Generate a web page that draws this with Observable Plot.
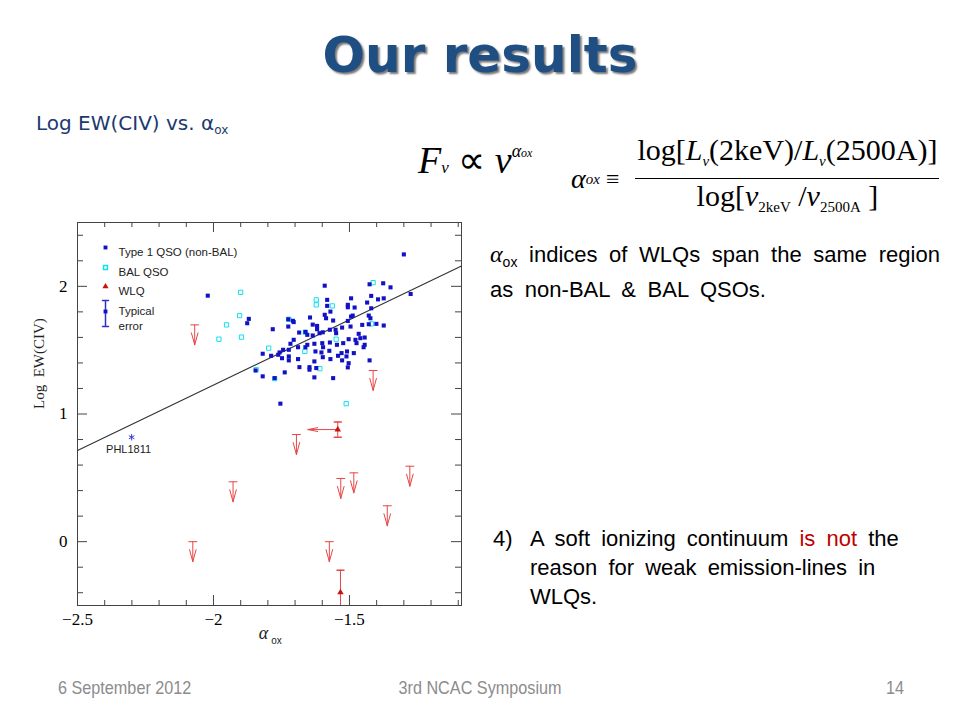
<!DOCTYPE html>
<html><head><meta charset="utf-8">
<script src="https://cdn.jsdelivr.net/npm/d3@7"></script>
<script src="https://cdn.jsdelivr.net/npm/@observablehq/plot@0.6"></script>
<style>
body{margin:0;background:#fff;width:960px;height:720px;position:relative;overflow:hidden;font-family:"Liberation Sans",Arial,sans-serif;}
.abs{position:absolute;white-space:nowrap;}
#title{left:0;width:960px;top:30px;text-align:center;font-family:"DejaVu Sans";font-weight:bold;font-size:50px;line-height:50px;color:#1f4e82;text-shadow:2px 2px 2px #777;}
#sub{left:36px;top:110px;font-family:"DejaVu Sans";font-size:20px;line-height:26px;color:#1c3a6e;}
#sub sub{font-size:12px;vertical-align:-4px;}
.serif{font-family:"Liberation Serif","Times New Roman",serif;color:#000;}
#f1{left:418px;top:129px;font-size:38px;line-height:44px;}
#f1 i{font-style:italic;}
#f1 .s{font-size:17px;}
#f2{left:571px;top:134px;font-size:30px;display:flex;align-items:center;}
#f2 .frac{display:inline-flex;flex-direction:column;align-items:center;margin-left:16px;}
#f2 .num{border-bottom:1.5px solid #000;padding:0 2px 1px 2px;line-height:32px;}
#f2 .den{line-height:34px;}
#f2 .sm{font-size:15px;vertical-align:-6px;}
#f2 .al{font-style:italic;font-size:28px;}
#t1{left:490px;top:240px;font-size:22px;line-height:28px;word-spacing:5.5px;color:#000;}
#t1 .al{font-family:"Liberation Serif",serif;font-style:italic;font-size:24px;}
#t1 sub{font-size:14px;vertical-align:-5px;word-spacing:0;}
#t2{left:493px;top:524px;font-size:22px;line-height:29px;color:#000;}
#t2 .n{position:absolute;left:0;top:0;}
#t2 .b{position:absolute;left:37px;top:0;word-spacing:5px;}
#t2 .red{color:#c00000;}
.foot{top:677px;font-family:"Liberation Sans",Arial,sans-serif;font-size:19px;line-height:22px;color:#8c8c8c;}
#chart{left:0;top:200px;}
</style></head>
<body>
<div id="title" class="abs">Our results</div>
<div id="sub" class="abs">Log EW(CIV) vs. α<sub>ox</sub></div>
<div id="f1" class="abs serif"><i>F</i><span class="s"><i>ν</i></span> ∝ <i>ν</i><sup style="font-size:18px;vertical-align:16px"><i>α</i><span style="font-size:12px"><i>ox</i></span></sup></div>
<div id="f2" class="abs serif"><span class="al">α</span><span class="sm"><i>ox</i></span><span style="margin-left:6px;font-size:24px">≡</span>
<span class="frac"><span class="num">log[<i>L</i><span class="sm"><i>ν</i></span>(2keV)/<i>L</i><span class="sm"><i>ν</i></span>(2500A)]</span><span class="den">log[<i>ν</i><span class="sm">2keV</span> /<i>ν</i><span class="sm">2500A</span> ]</span></span></div>
<div id="t1" class="abs"><span class="al">α</span><sub>ox</sub> indices of WLQs span the same region<br>as non-BAL &amp; BAL QSOs.</div>
<div id="t2" class="abs"><span class="n">4)</span><span class="b">A soft ionizing continuum <span class="red">is not</span> the<br>reason for weak emission-lines in<br>WLQs.</span></div>
<div class="abs foot" style="left:58px;transform:scaleX(0.853);transform-origin:left top">6 September 2012</div>
<div class="abs foot" style="left:0;width:960px;text-align:center;transform:scaleX(0.853);transform-origin:center top">3rd NCAC Symposium</div>
<div class="abs foot" style="left:886px;transform:scaleX(0.853);transform-origin:left top">14</div>
<div id="chart" class="abs"></div>
<script>
// ---- data ----
const nonBalX = [-1.300,-2.021,-1.591,-1.426,-1.376,-1.349,-1.275,-1.870,-1.876,-1.782,-1.725,-1.725,-1.708,-1.705,-1.645,-1.635,-1.619,-1.619,-1.591,-1.586,-1.582,-1.582,-1.570,-1.560,-1.527,-1.506,-1.494,-1.506,-1.506,-1.481,-1.494,-1.496,-1.488,-1.435,-1.420,-1.420,-1.395,-1.374,-1.429,-1.423,-1.453,-1.429,-1.401,-1.374,-1.685,-1.662,-1.655,-1.635,-1.610,-1.598,-1.572,-1.551,-1.572,-1.549,-1.466,-1.460,-1.444,-1.478,-1.474,-1.503,-1.523,-1.546,-1.444,-1.448,-1.484,-1.509,-1.529,-1.542,-1.511,-1.527,-1.503,-1.506,-1.426,-1.600,-1.597,-1.629,-1.655,-1.662,-1.689,-1.705,-1.717,-1.723,-1.744,-1.757,-1.723,-1.723,-1.748,-1.788,-1.819,-1.762,-1.689,-1.684,-1.647,-1.647,-1.625,-1.603,-1.629,-1.622,-1.574,-1.570,-1.598,-1.738,-1.819,-1.775,-1.629,-1.560,-1.754,-1.845];
const nonBalY = [2.25,1.927,2.005,2.016,2.024,1.992,1.94,1.745,1.711,1.664,1.742,1.685,1.73,1.72,1.756,1.70,1.69,1.664,1.777,1.75,1.894,1.847,1.802,1.732,1.677,1.729,1.906,1.855,1.836,1.834,1.763,1.685,1.771,1.873,1.925,1.828,1.898,1.906,1.771,1.75,1.698,1.703,1.706,1.693,1.638,1.643,1.62,1.615,1.633,1.64,1.66,1.66,1.56,1.633,1.628,1.594,1.599,1.581,1.555,1.586,1.555,1.542,1.542,1.523,1.477,1.49,1.477,1.456,1.451,1.42,1.398,1.365,1.42,1.555,1.523,1.55,1.542,1.523,1.523,1.581,1.55,1.503,1.503,1.482,1.451,1.42,1.437,1.456,1.472,1.464,1.43,1.367,1.367,1.347,1.49,1.482,1.412,1.36,1.495,1.43,1.445,1.326,1.295,1.281,1.287,1.281,1.081,1.341];
const balX = [-1.900,-1.413,-1.904,-1.952,-1.980,-1.897,-1.622,-1.622,-1.563,-1.723,-1.549,-1.797,-1.664,-1.609,-1.843,-1.775,-1.419,-1.512,-1.662];
const balY = [1.953,2.029,1.771,1.698,1.586,1.602,1.894,1.855,1.847,1.742,1.586,1.516,1.49,1.355,1.347,1.277,1.706,1.081,1.64];
// WLQ upper limits on EW (cap position)
const wlqLimX = [-2.069,-1.413,-1.695,-1.928,-1.532,-1.484,-1.278,-1.361,-2.076,-1.574];
const wlqLimY = [1.698,1.341,0.839,0.469,0.495,0.539,0.591,0.281,0.0,0.0];
// WLQ detections with errors
const wlqDetX = [-1.543,-1.533];
const wlqDetY = [0.878,-0.398];
const wlqDetErr = [0.06,0.175];
const wlqArrowX2 = [-1.653]; // upper limit on alpha_ox for first detection
const phlX = [-2.301], phlY = [0.818], phlLabel = ["PHL1811"];
// best-fit line endpoints
const fitX = [-2.5,-1.088], fitY = [0.714,2.16];
// axes
const xMajor = [-2.5,-2,-1.5], xMajorLabels = ["−2.5","−2","−1.5"];
const xMinor = [-2.4,-2.3,-2.2,-2.1,-1.9,-1.8,-1.7,-1.6,-1.4,-1.3,-1.2,-1.1];
const yMajor = [0,1,2], yMajorLabels = ["0","1","2"];
const yMinor = [-0.4,-0.2,0.2,0.4,0.6,0.8,1.2,1.4,1.6,1.8,2.2,2.4];
const legendLabels = ["Type 1 QSO (non-BAL)","BAL QSO","WLQ","Typical","error"];
const legendDy = [25,45,64,84,99];

const blue="#1212c4", cyan="#10e0ee", red="#e64646", dred="#cc1010";
const X0=-2.5, X1=-1.088, Y0=-0.5, Y1=2.5;
const W=480, H=460, ML=77, MR=19, MT=22, MB=55;
const pxX=(X1-X0)/(W-ML-MR), pxY=(Y1-Y0)/(H-MT-MB);

const nonBal = nonBalX.map((x,i)=>({x,y:nonBalY[i]}));
const bal = balX.map((x,i)=>({x,y:balY[i]}));
const lims = wlqLimX.map((x,i)=>({x,y:wlqLimY[i]}));
const dets = wlqDetX.map((x,i)=>({x,y:wlqDetY[i],lo:wlqDetY[i]-wlqDetErr[i],hi:wlqDetY[i]+wlqDetErr[i]}));
const arrows = wlqArrowX2.map((x2,i)=>({x1:wlqDetX[i],x2,y:wlqDetY[i]}));
const fit = fitX.map((x,i)=>({x,y:fitY[i]}));
const phl = phlX.map((x,i)=>({x,y:phlY[i],t:phlLabel[i]}));

const capShape = {draw(c,l){c.moveTo(-l,0);c.lineTo(l,0);}};
const limShape = {draw(c,l){c.moveTo(-4,0);c.lineTo(4,0);c.moveTo(0,0);c.lineTo(0,-l);c.moveTo(-3.3,-l+12);c.lineTo(0,-l);c.lineTo(3.3,-l+12);}};
const errShape = {draw(c,l){c.moveTo(-3,0);c.lineTo(3,0);c.moveTo(0,0);c.lineTo(0,-l);c.moveTo(-3,-l);c.lineTo(3,-l);}};

function xTicks(vals, len){
  const st={stroke:"#444",strokeWidth:1};
  return [
    Plot.ruleX(vals,{x:d=>d,y1:Y0,y2:Y0+len*pxY,...st}),
    Plot.ruleX(vals,{x:d=>d,y1:Y1,y2:Y1-len*pxY,...st})];
}
function yTicks(vals, len){
  const st={stroke:"#444",strokeWidth:1};
  return [
    Plot.ruleY(vals,{y:d=>d,x1:X0,x2:X0+len*pxX,...st}),
    Plot.ruleY(vals,{y:d=>d,x1:X1,x2:X1-len*pxX,...st})];
}

const serif = "Liberation Serif, Times New Roman, serif";
const sans = "Liberation Sans, Arial, sans-serif";
const chart = Plot.plot({
  width:W, height:H,
  marginLeft:ML, marginRight:MR, marginTop:MT, marginBottom:MB,
  x:{domain:[X0,X1]}, y:{domain:[Y0,Y1]},
  style:{background:"transparent", color:"#000"},
  marks:[
    ...xTicks(xMinor,5), ...xTicks(xMajor,10),
    ...yTicks(yMinor,6), ...yTicks(yMajor,10),
    Plot.axisX({ticks:xMajor, tickSize:0, tickPadding:7, fontSize:17, fontFamily:serif, tickFormat:d=>xMajorLabels[xMajor.indexOf(d)], label:null}),
    Plot.axisY({ticks:yMajor, tickSize:0, tickPadding:10, fontSize:17, fontFamily:serif, tickFormat:d=>yMajorLabels[yMajor.indexOf(d)], label:null}),
    Plot.frame({stroke:"#444", strokeWidth:1}),
    Plot.line(fit,{x:"x",y:"y",stroke:"#333",strokeWidth:1.1}),
    Plot.dot(bal,{x:"x",y:"y",symbol:"square",r:2.4,stroke:cyan,strokeWidth:1,fill:"none"}),
    Plot.dot(nonBal,{x:"x",y:"y",symbol:"square",r:2.3,fill:blue}),
    Plot.vector(lims,{x:"x",y:"y",length:20,rotate:180,anchor:"start",shape:limShape,stroke:red,strokeWidth:1}),
    Plot.ruleX(dets,{x:"x",y1:"lo",y2:"hi",stroke:red,strokeWidth:1,clip:true}),
    Plot.vector(dets,{x:"x",y:"hi",length:3.5,rotate:0,anchor:"start",shape:capShape,stroke:red,clip:true}),
    Plot.vector(dets,{x:"x",y:"lo",length:3.5,rotate:0,anchor:"start",shape:capShape,stroke:red,clip:true}),
    Plot.arrow(arrows,{x1:"x1",x2:"x2",y1:"y",y2:"y",stroke:red,strokeWidth:1,headLength:18,headAngle:22}),
    Plot.dot(dets,{x:"x",y:"y",symbol:"triangle",r:2.4,fill:dred}),
    Plot.dot(phl,{x:"x",y:"y",symbol:"asterisk",r:3,stroke:"#3a3ae0",strokeWidth:1}),
    Plot.text(phl,{x:"x",y:"y",text:"t",dx:-3,dy:12,fontSize:11,fontFamily:sans,fill:"#222"}),
    // legend
    Plot.dot([legendLabels[0]],{frameAnchor:"top-left",dx:28,dy:25,symbol:"square",r:2.2,fill:blue}),
    Plot.dot([legendLabels[1]],{frameAnchor:"top-left",dx:28,dy:45,symbol:"square",r:2.2,stroke:cyan,fill:"none"}),
    Plot.dot([legendLabels[2]],{frameAnchor:"top-left",dx:28,dy:64,symbol:"triangle",r:2.3,fill:dred}),
    Plot.vector([legendLabels[3]],{frameAnchor:"top-left",dx:28,dy:78,length:26,rotate:180,anchor:"start",shape:errShape,stroke:"#3030c8"}),
    Plot.dot([legendLabels[3]],{frameAnchor:"top-left",dx:28,dy:89,symbol:"square",r:2.2,fill:blue}),
    ...legendLabels.map((lab,i)=>Plot.text([lab],{frameAnchor:"top-left",text:d=>d,dx:41,dy:legendDy[i],textAnchor:"start",fontSize:11.5,fontFamily:sans,fill:"#222"})),
    // axis titles
    Plot.text(["Log  EW(CIV)"],{frameAnchor:"left",text:d=>d,dx:-38,dy:-5,rotate:-90,fontSize:15,fontFamily:serif,fill:"#222"}),
    Plot.text(["α"],{frameAnchor:"bottom",text:d=>d,dx:-6,dy:33,fontSize:18,fontStyle:"italic",fontFamily:serif,fill:"#222"}),
    Plot.text(["ox"],{frameAnchor:"bottom",text:d=>d,dx:7,dy:38,fontSize:10,fontFamily:sans,fill:"#222"})
  ]
});
document.getElementById("chart").appendChild(chart);
</script>
</body></html>
